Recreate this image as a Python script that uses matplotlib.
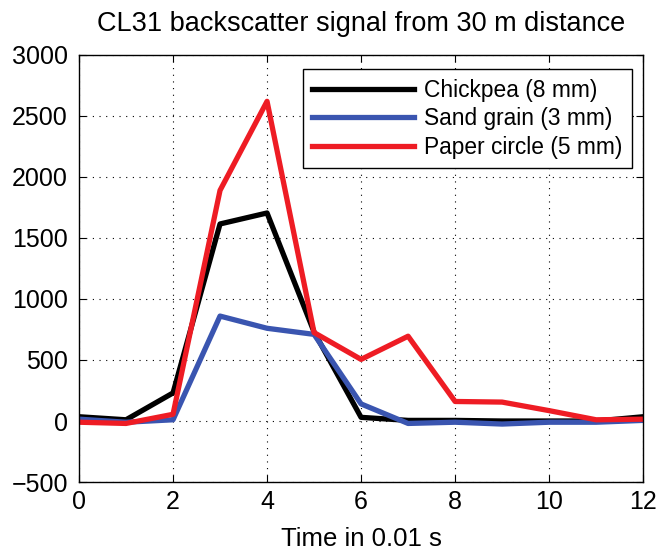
import matplotlib
matplotlib.use('Agg')
import matplotlib.pyplot as plt
import numpy as np

# data
time_steps = [0, 1, 2, 3, 4, 5, 6, 7, 8, 9, 10, 11, 12]
chickpea = [35, 10, 230, 1615, 1705, 730, 30, 5, 5, 0, 0, 0, 35]
sand_grain = [15, -10, 10, 860, 760, 710, 140, -20, -10, -25, -10, -10, 5]
paper_circle = [-10, -20, 55, 1890, 2620, 725, 505, 695, 160, 155, 85, 10, 15]
labels = ['Chickpea (8 mm)', 'Sand grain (3 mm)', 'Paper circle (5 mm)']

plt.rcParams['font.family'] = ['Liberation Sans', 'DejaVu Sans']

fig = plt.figure(figsize=(6.61, 5.52), dpi=100)
ax = fig.add_axes([0.1195, 0.1268, 0.8535, 0.7736])

ax.plot(time_steps, chickpea, color='black', lw=3.8, label=labels[0])
ax.plot(time_steps, sand_grain, color='#3a55b0', lw=3.8, label=labels[1])
ax.plot(time_steps, paper_circle, color='#ee1c24', lw=3.8, label=labels[2])

ax.set_xlim(0, 12)
ax.set_ylim(-500, 3000)
ax.set_xticks(np.arange(0, 13, 2))
ax.set_yticks(np.arange(-500, 3001, 500))
ax.grid(True, color='black', linestyle=(0, (1, 5)), linewidth=0.8)
ax.tick_params(direction='in', top=True, right=True, length=5, labelsize=18)
ax.tick_params(axis='y', pad=8)
ax.tick_params(axis='x', pad=6)
for s in ax.spines.values():
    s.set_linewidth(1.0)

ax.set_title('CL31 backscatter signal from 30 m distance', fontsize=19.5, pad=17)
ax.set_xlabel('Time in 0.01 s', fontsize=18.5, labelpad=9)

leg = ax.legend(loc='upper right', bbox_to_anchor=(0.980, 0.966), borderaxespad=0,
                fontsize=16.4, fancybox=False, framealpha=1, edgecolor='black',
                handlelength=4.5, handletextpad=0.45, borderpad=0.4,
                labelspacing=0.25)
leg.get_frame().set_linewidth(1.0)

fig.savefig('out.png', dpi=100)
